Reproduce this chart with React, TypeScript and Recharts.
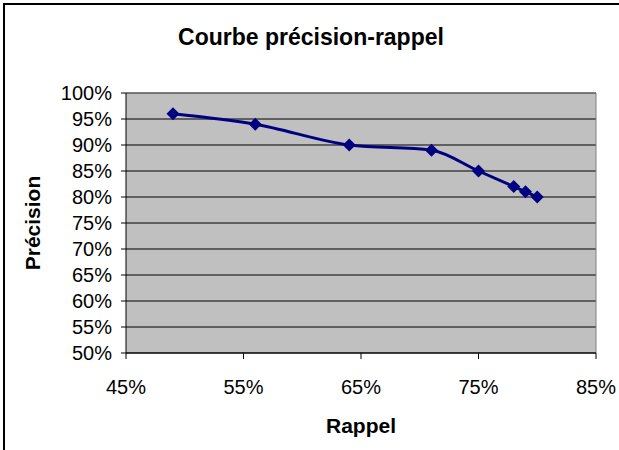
import { LineChart, Line, XAxis, YAxis, CartesianGrid, ReferenceLine } from "recharts";

const rappel = [49, 56, 64, 71, 75, 78, 79, 80];
const precision = [96, 94, 90, 89, 85, 82, 81, 80];
const xTicks = [45, 55, 65, 75, 85];
const yTicks = [50, 55, 60, 65, 70, 75, 80, 85, 90, 95, 100];

const data = rappel.map((r, i) => ({ rappel: r, precision: precision[i] }));

const font = "'Liberation Sans', Arial, sans-serif";

const Diamond = (props: any) => {
  const { cx, cy } = props;
  if (cx == null || cy == null) return null;
  const s = 6.5;
  return (
    <path
      d={`M${cx},${cy - s}L${cx + s},${cy}L${cx},${cy + s}L${cx - s},${cy}Z`}
      fill="#000080"
    />
  );
};

export default function App() {
  return (
    <div style={{ position: "absolute", left: 0, top: 0, width: 619, height: 450, background: "#fff", fontFamily: font }}>
      <div
        style={{
          position: "absolute",
          left: 3,
          top: 3,
          width: 616,
          height: 447,
          borderTop: "2px solid #000",
          borderLeft: "2px solid #000",
          boxSizing: "border-box",
        }}
      />
      <div
        style={{
          position: "absolute",
          left: 0,
          top: 26,
          width: 622,
          textAlign: "center",
          fontSize: 23,
          lineHeight: "23px",
          fontWeight: "bold",
        }}
      >
        Courbe précision-rappel
      </div>
      <LineChart
        width={619}
        height={450}
        data={data}
        margin={{ top: 93, right: 23, left: 0, bottom: 0 }}
        style={{ fontFamily: font }}
      >
        <CartesianGrid vertical={false} stroke="#000" fill="#C0C0C0" fillOpacity={1} />
        <ReferenceLine y={100} stroke="#808080" />
        <ReferenceLine x={85} stroke="#808080" />
        <XAxis
          dataKey="rappel"
          type="number"
          domain={[45, 85]}
          ticks={xTicks}
          tickFormatter={(v: number) => `${v}%`}
          height={97}
          tickSize={6}
          tickMargin={21}
          axisLine={{ stroke: "#000" }}
          tickLine={{ stroke: "#000" }}
          tick={{ fill: "#000", fontSize: 20 }}
          interval={0}
          label={{
            value: "Rappel",
            position: "insideBottom",
            offset: 17,
            fill: "#000",
            fontSize: 21,
            fontWeight: "bold",
          }}
        />
        <YAxis
          type="number"
          domain={[50, 100]}
          ticks={yTicks}
          tickFormatter={(v: number) => `${v}%`}
          width={126}
          tickSize={5}
          tickMargin={9}
          axisLine={{ stroke: "#000" }}
          tickLine={{ stroke: "#000" }}
          tick={{ fill: "#000", fontSize: 20 }}
          interval={0}
          label={{
            value: "Précision",
            angle: -90,
            position: "insideLeft",
            offset: 33,
            fill: "#000",
            fontSize: 21,
            fontWeight: "bold",
            style: { textAnchor: "middle" },
          }}
        />
        <Line
          dataKey="precision"
          type="monotone"
          stroke="#000080"
          strokeWidth={3}
          dot={<Diamond />}
          activeDot={false}
          isAnimationActive={false}
        />
      </LineChart>
    </div>
  );
}
